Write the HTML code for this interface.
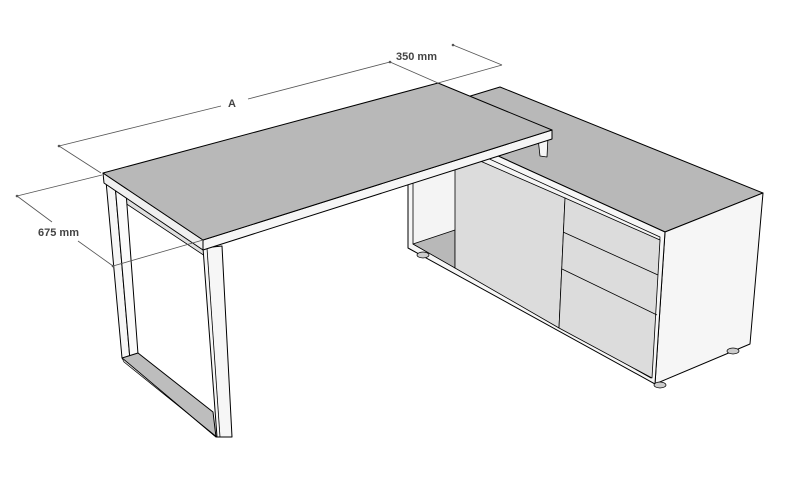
<!DOCTYPE html>
<html><head><meta charset="utf-8"><style>
html,body{margin:0;padding:0;background:#fff;width:808px;height:493px;overflow:hidden}
svg{display:block}
text{font-family:"Liberation Sans",sans-serif;font-weight:bold;font-size:11px;fill:#444}
</style></head><body>
<svg width="808" height="493" viewBox="0 0 808 493" xmlns="http://www.w3.org/2000/svg">
<g stroke="#000" stroke-width="1" stroke-linejoin="round">
<!-- cabinet top -->
<polygon points="500,87 763,193 665,232 408,115" fill="#b8b8b8"/>
<!-- cabinet side -->
<polygon points="665,232 763,193 750,344 655,384" fill="#f6f6f6"/>
<!-- cabinet front -->
<polygon points="408,115 665,232 655,384 408,248" fill="#f6f6f6"/>
<polygon points="413,124 660,237 651,378 413,244" fill="#f4f4f4" stroke-width="0.8"/>
<!-- open compartment floor -->
<polygon points="413,244 455,230 455,268" fill="#b8b8b8" stroke-width="0.8"/>
<!-- door -->
<polygon points="455,150 565,198 559,328 455,268" fill="#dcdcdc" stroke-width="0.8"/>
<!-- drawers -->
<polygon points="565,198 660,240 652,378 559,328" fill="#dcdcdc" stroke-width="0.8"/>
<line x1="563" y1="232" x2="658" y2="275" stroke-width="0.8"/>
<line x1="562" y1="269" x2="657" y2="315" stroke-width="0.8"/>
<!-- feet -->
<ellipse cx="423" cy="255" rx="6" ry="3" fill="#ccc" stroke-width="0.7"/>
<ellipse cx="660" cy="385" rx="6" ry="3" fill="#ccc" stroke-width="0.7"/>
<ellipse cx="733" cy="351" rx="6" ry="3" fill="#ccc" stroke-width="0.7"/>
<!-- desk right support -->
<polygon points="538,138 548,136 547,157 540,156" fill="#f6f6f6" stroke-width="0.8"/>
<!-- rail under desk -->
<polygon points="113,182 205,243 205,256 113,195" fill="#e0e0e0" stroke-width="0.8"/>
<!-- left leg -->
<polygon points="106,181 115,184 130,360 122,358" fill="#f6f6f6"/>
<polygon points="115,184 126,192 138,354 130,360" fill="#fafafa"/>
<!-- bottom bar -->
<polygon points="122,358 138,353 213,412 216,437" fill="#bdbdbd"/>
<polygon points="122,358 216,437 217,437 124,362" fill="#e0e0e0" stroke-width="0.7"/>
<!-- right leg -->
<polygon points="203,248 222,246 232,437 217,437" fill="#f6f6f6"/>
<line x1="207" y1="248" x2="220" y2="437" stroke-width="0.8"/>
<!-- desk top edge -->
<polygon points="103,173 203,240 203,250 104,183" fill="#f0f0f0"/>
<polygon points="203,240 552,130 552,139 203,250" fill="#f6f6f6"/>
<!-- desk top -->
<polygon points="103,173 438,83 552,130 203,240" fill="#b8b8b8"/>
</g>
<!-- dimension lines -->
<g stroke="#555" stroke-width="0.8" fill="none">
<line x1="59" y1="146" x2="221" y2="106"/>
<line x1="248" y1="99" x2="390" y2="62"/>
<line x1="59" y1="146" x2="101" y2="173"/>
<line x1="390" y1="62" x2="438" y2="83"/>
<line x1="453" y1="45" x2="502" y2="65"/>
<line x1="438" y1="83" x2="502" y2="65"/>
<line x1="17" y1="196" x2="102" y2="175"/>
<line x1="17" y1="196" x2="52" y2="222"/>
<line x1="78" y1="241" x2="113" y2="266"/>
<line x1="113" y1="266" x2="203" y2="240"/>
</g>
<g fill="#555">
<circle cx="59" cy="146" r="1.3"/><circle cx="390" cy="62" r="1.3"/>
<circle cx="453" cy="45" r="1.3"/><circle cx="17" cy="196" r="1.3"/><circle cx="113" cy="266" r="1.3"/>
</g>
<text x="228" y="107">A</text>
<text x="396" y="60">350 mm</text>
<text x="38" y="236">675 mm</text>
</svg>
</body></html>
